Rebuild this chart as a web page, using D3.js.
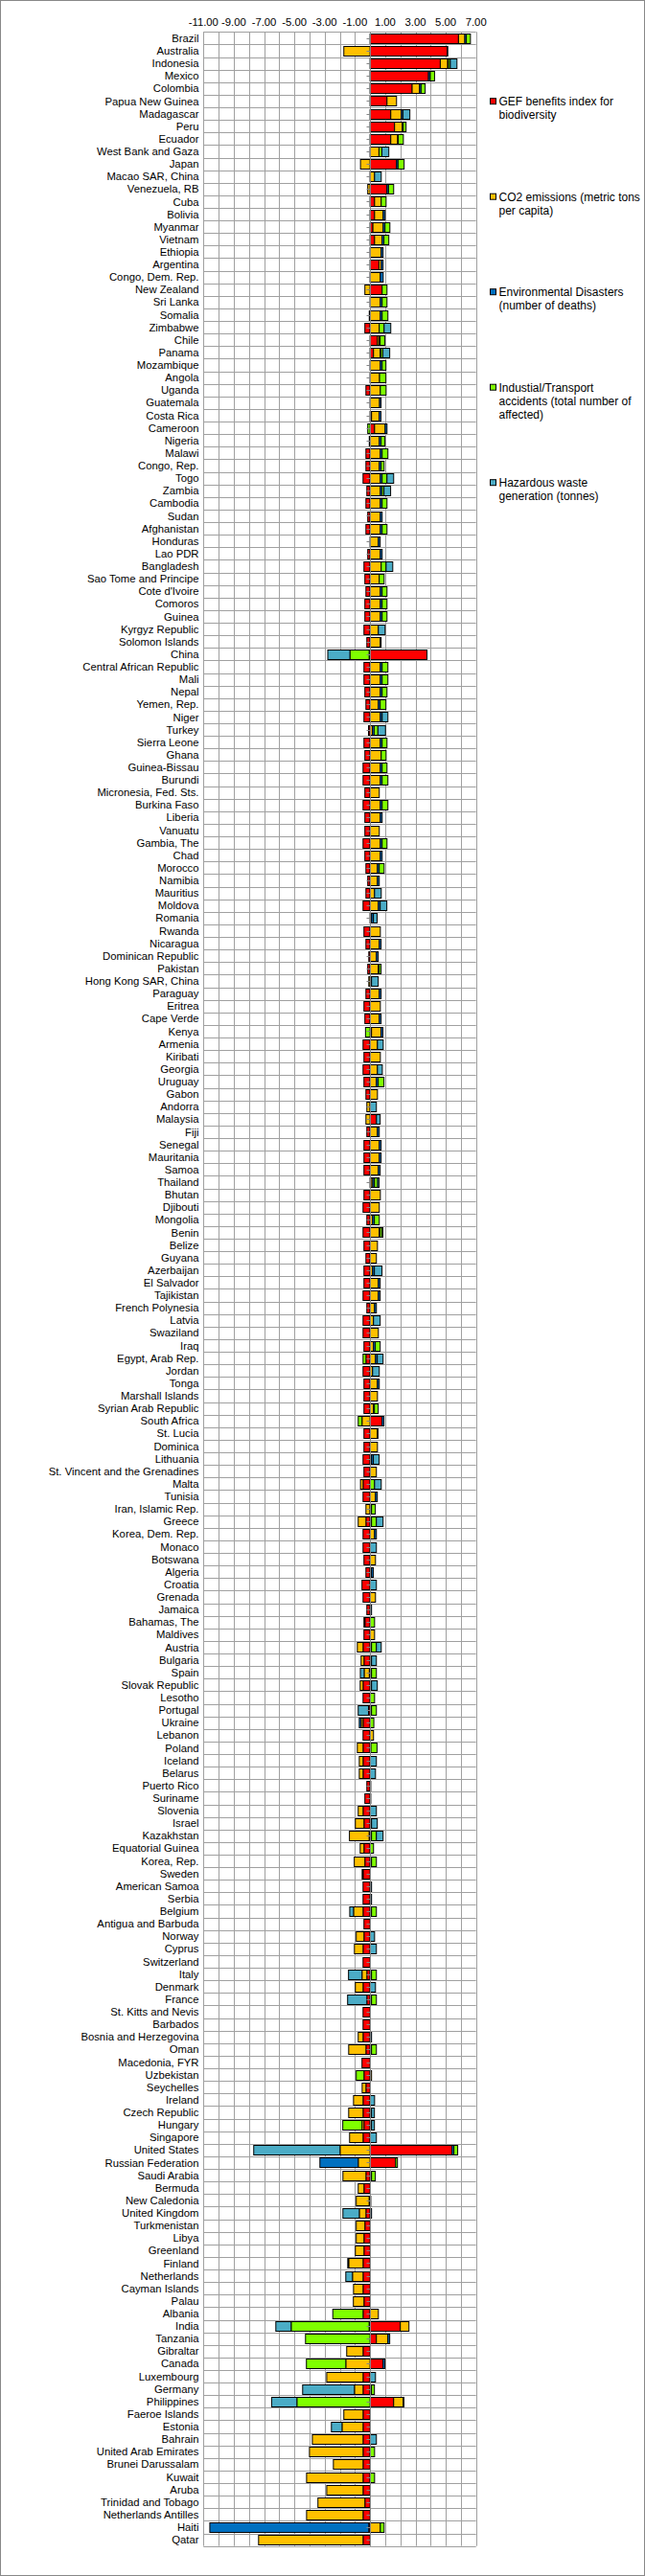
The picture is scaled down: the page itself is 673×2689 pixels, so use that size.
<!DOCTYPE html>
<html><head><meta charset="utf-8">
<script src="https://cdn.jsdelivr.net/npm/d3@7"></script>
<style>body{margin:0;background:#fff} svg{display:block} text{font-family:Arial,"Liberation Sans",sans-serif;fill:#000}</style>
</head><body><svg id="c" width="673" height="2689"></svg>
<script>
const countries = ["Brazil","Australia","Indonesia","Mexico","Colombia","Papua New Guinea","Madagascar","Peru","Ecuador","West Bank and Gaza",
"Japan","Macao SAR, China","Venezuela, RB","Cuba","Bolivia","Myanmar","Vietnam","Ethiopia","Argentina","Congo, Dem. Rep.",
"New Zealand","Sri Lanka","Somalia","Zimbabwe","Chile","Panama","Mozambique","Angola","Uganda","Guatemala",
"Costa Rica","Cameroon","Nigeria","Malawi","Congo, Rep.","Togo","Zambia","Cambodia","Sudan","Afghanistan",
"Honduras","Lao PDR","Bangladesh","Sao Tome and Principe","Cote d'Ivoire","Comoros","Guinea","Kyrgyz Republic","Solomon Islands","China",
"Central African Republic","Mali","Nepal","Yemen, Rep.","Niger","Turkey","Sierra Leone","Ghana","Guinea-Bissau","Burundi",
"Micronesia, Fed. Sts.","Burkina Faso","Liberia","Vanuatu","Gambia, The","Chad","Morocco","Namibia","Mauritius","Moldova",
"Romania","Rwanda","Nicaragua","Dominican Republic","Pakistan","Hong Kong SAR, China","Paraguay","Eritrea","Cape Verde","Kenya",
"Armenia","Kiribati","Georgia","Uruguay","Gabon","Andorra","Malaysia","Fiji","Senegal","Mauritania",
"Samoa","Thailand","Bhutan","Djibouti","Mongolia","Benin","Belize","Guyana","Azerbaijan","El Salvador",
"Tajikistan","French Polynesia","Latvia","Swaziland","Iraq","Egypt, Arab Rep.","Jordan","Tonga","Marshall Islands","Syrian Arab Republic",
"South Africa","St. Lucia","Dominica","Lithuania","St. Vincent and the Grenadines","Malta","Tunisia","Iran, Islamic Rep.","Greece","Korea, Dem. Rep.",
"Monaco","Botswana","Algeria","Croatia","Grenada","Jamaica","Bahamas, The","Maldives","Austria","Bulgaria",
"Spain","Slovak Republic","Lesotho","Portugal","Ukraine","Lebanon","Poland","Iceland","Belarus","Puerto Rico",
"Suriname","Slovenia","Israel","Kazakhstan","Equatorial Guinea","Korea, Rep.","Sweden","American Samoa","Serbia","Belgium",
"Antigua and Barbuda","Norway","Cyprus","Switzerland","Italy","Denmark","France","St. Kitts and Nevis","Barbados","Bosnia and Herzegovina",
"Oman","Macedonia, FYR","Uzbekistan","Seychelles","Ireland","Czech Republic","Hungary","Singapore","United States","Russian Federation",
"Saudi Arabia","Bermuda","New Caledonia","United Kingdom","Turkmenistan","Libya","Greenland","Finland","Netherlands","Cayman Islands",
"Palau","Albania","India","Tanzania","Gibraltar","Canada","Luxembourg","Germany","Philippines","Faeroe Islands",
"Estonia","Bahrain","United Arab Emirates","Brunei Darussalam","Kuwait","Aruba","Trinidad and Tobago","Netherlands Antilles","Haiti","Qatar"];

const gef = [5.84,5.1,4.64,3.86,2.78,1.12,1.37,1.62,1.37,0,
1.75,0,1.12,0.3,0.3,0.19,0.3,0,0.59,0,
0.8,0,-0.05,-0.34,0.49,0.23,0,0,-0.27,0,
0.1,0.3,-0.05,-0.27,-0.27,-0.46,-0.21,-0.27,-0.15,-0.27,
0,-0.15,-0.4,-0.34,-0.27,-0.34,-0.34,-0.4,-0.21,3.76,
-0.4,-0.4,-0.34,-0.27,-0.4,-0.1,-0.4,-0.34,-0.46,-0.46,
-0.34,-0.46,-0.34,-0.34,-0.46,-0.34,-0.27,-0.15,-0.27,-0.46,
0,-0.4,-0.27,-0.08,-0.15,0,-0.27,-0.4,-0.34,0.1,
-0.46,-0.4,-0.46,-0.4,-0.27,0,0.42,-0.21,-0.4,-0.4,
-0.4,0.06,-0.4,-0.46,-0.21,-0.46,-0.4,-0.27,-0.4,-0.4,
-0.46,-0.21,-0.46,-0.46,-0.4,-0.27,-0.46,-0.4,-0.4,-0.4,
0.8,-0.4,-0.4,-0.46,-0.4,-0.46,-0.46,0,-0.27,-0.46,
-0.46,-0.4,-0.27,-0.53,-0.46,-0.21,-0.34,-0.4,-0.46,-0.4,
-0.05,-0.46,-0.46,-0.1,-0.46,-0.46,-0.46,-0.46,-0.46,-0.21,
-0.34,-0.46,-0.4,-0.06,-0.4,-0.34,-0.46,-0.46,-0.46,-0.46,
-0.4,-0.4,-0.46,-0.46,-0.21,-0.46,-0.21,-0.46,-0.46,-0.46,
-0.27,-0.53,-0.4,-0.27,-0.46,-0.46,-0.4,-0.46,5.42,1.69,
-0.27,-0.4,-0.06,-0.27,-0.34,-0.4,-0.4,-0.46,-0.46,-0.46,
-0.4,-0.46,2.0,0.42,-0.46,0.86,-0.46,-0.46,1.56,-0.46,
-0.46,-0.46,-0.46,-0.46,-0.46,-0.46,-0.34,-0.46,-0.08,-0.46];

const co2 = [0.42,-1.73,0.49,0,0.49,0.63,0.7,0.51,0.46,0.59,
-0.63,0.3,-0.15,0.44,0.57,0.68,0.5,0.74,0.15,0.68,
-0.34,0.68,0.68,0.61,0.1,0.44,0.68,0.63,0.68,0.63,
0.5,0.7,0.61,0.68,0.61,0.68,0.68,0.68,0.68,0.68,
0.55,0.68,0.74,0.61,0.68,0.68,0.68,0.55,0.68,-0.06,
0.68,0.68,0.68,0.55,0.68,0.15,0.68,0.74,0.68,0.68,
0.61,0.68,0.68,0.61,0.68,0.68,0.49,0.49,0.3,0.55,
0.1,0.68,0.61,0.42,0.55,-0.08,0.61,0.68,0.61,0.63,
0.49,0.68,0.49,0.42,0.49,-0.21,-0.27,0.49,0.61,0.61,
0.55,0.12,0.68,0.61,0.17,0.61,0.49,0.42,0.17,0.55,
0.55,0.3,0.23,0.55,0.23,0.36,0.17,0.49,0.49,0.23,
-0.53,0.49,0.49,0.1,0.42,-0.17,0.36,-0.27,-0.51,0.3,
0,0.36,0.1,0,0.36,0,-0.06,0.3,-0.38,-0.19,
-0.34,-0.19,0,0,-0.13,0.23,-0.38,-0.25,-0.25,0,
0,-0.32,-0.57,-1.3,-0.25,-0.7,-0.06,0,0,-0.63,
0,-0.51,-0.57,0,-0.32,-0.51,0,0,0,-0.32,
-1.14,0,0.1,-0.25,-0.63,-0.95,-0.13,-0.89,-1.98,-0.78,
-1.52,-0.38,-0.85,-0.44,-0.57,-0.51,-0.57,-0.95,-0.7,-0.63,
-0.7,0.55,0.57,0.76,-1.08,-1.6,-2.4,-0.57,0.63,-1.27,
-1.39,-3.35,-3.54,-1.96,-3.73,-2.4,-3.1,-3.73,0.68,-6.9];

const envDisasters = [0.1,0.03,0.05,0.12,0.1,0,0.1,0.06,0.03,0,
0.1,0,0.1,0,0.12,0.12,0.12,0.12,0.12,0.19,
0,0.12,0.12,0,0.08,0.05,0.12,0,0,0.1,
0.12,0.12,0.12,0.12,0.12,0.12,0.12,0.12,0.12,0.12,
0.12,0.12,0,0,0.12,0.12,0.12,0,0.05,0,
0.12,0.12,0.12,0.12,0.12,0.12,0.12,0,0.12,0.12,
0,0.12,0.12,0,0.12,0.12,0.12,0.12,0,0.12,
0.12,0,0.12,0.12,0.06,0.1,0.12,0,0.12,0.12,
0,0,0,0.12,0,0,0,0.12,0.12,0.12,
0.12,0.12,0,0,0.12,0.06,0,0,0.12,0.12,
0.12,0.12,0,0,0.12,0.12,0,0.12,0,0.06,
0.12,0.03,0,0.12,0,0,0.12,0.1,0.1,0.12,
0,0,0.12,0,0,0.1,0,0,0.1,0.1,
0.1,0.1,0,0.1,-0.12,0,0.06,0,0,0.05,
0.05,0,0.1,0.1,0,0.1,0,0.1,0.1,0.1,
0,0,0,0,0.1,0,0.1,0,0,0.1,
0.1,0,0,0,0,0.1,0.1,0,0.12,-2.53,
0.1,0,0.05,0.1,0,0,0,-0.06,0,0,
0,0,-0.06,0.12,0,0.12,0,0.1,0.05,0,
0,0,0,0,0,0,0,0,-10.5,0];

const industrialAccidents = [0.27,0,0.12,0.28,0.27,0,0,0.19,0.34,0.19,
0.4,0,0.34,0.32,0,0.32,0.32,0,0,0,
0.32,0.32,0.38,0.32,0.3,0.12,0.25,0.42,0.38,0,
0,-0.15,0.25,0.38,0.2,0.32,0.12,0.32,0,0.32,
0,0,0.32,0.32,0.32,0.32,0.32,0,0,-1.27,
0.38,0.38,0.32,0.38,0,0.25,0.32,0.32,0.32,0.38,
0,0.38,0,0,0.32,0,0.32,0,0,0,
0,0,0,0,0.12,0,0,0,0,-0.3,
0,0,0,0.38,0,0,0,0,0,0,
0,0.2,0,0,0.32,0.12,0,0,0,0,
0,0,0,0,0.32,-0.19,0,0,0,0.25,
-0.25,0,0,0,0,0.3,0,0.25,0.32,0,
0,0,0,0,0,0,0.3,0,0.32,0,
0.32,0,0.3,0.32,0.25,0,0.4,0,0,0,
0,0,0,0.32,0.23,0.32,0,0,0,0.32,
0,0,0,0,0.32,0,0.32,0,0,0,
0.32,0,-0.51,0,0,0,-1.27,0,0.25,0.12,
0.25,0,0,0,0,0,0,0,0,0,
0,-2.0,-5.15,-4.26,0,-2.6,0,0.19,-4.83,0,
0,0,0.3,0,0.3,0,0,0,0.25,0];

const hazardousWaste = [0,0,0.44,0,0,0,0.46,0,0,0.46,
0,0.44,0,0,0,0,0,0,0,0,
0,0,0,0.44,0,0.46,0,0,0,0,
0,0,0,0,0,0.44,0.44,0,0,0,
0,0,0.44,0,0,0,0,0.44,0,-1.46,
0,0,0,0,0.38,0.5,0,0,0,0,
0,0,0,0,0,0,0,0,0.44,0.44,
0.25,0,0,0,0,0.44,0,0,0,0,
0.38,0,0.32,0,0,0.42,0.25,0,0,0,
0,0.1,0,0,0,0.06,0,0,0.5,0,
0,0,0.44,0,0,0.38,0.44,0,0,0,
0,0,0,0.38,0,0.44,0,0,0.44,0,
0.42,0,0,0.42,0,0,0,0,0.32,0.32,
-0.25,0.38,0,-0.68,0,0,0,0.42,0.36,0,
0,0.42,0.38,0.44,0,0,0,0,0,-0.25,
0,0.3,0.42,0,-0.89,0.36,-1.27,0,0,0,
0,0,0,0,0.3,0.19,0.19,0.42,-5.7,0,
0,0,0,-1.08,0,0,0,0,-0.44,0,
0,0,-1.01,0,0,0,0.36,-3.42,-1.67,0,
-0.7,0.42,0,0,0,0,0,0,0,0];

const seriesNames = ["GEF benefits index for biodiversity","CO2 emissions (metric tons per capita)","Environmental Disasters (number of deaths)","Industial/Transport accidents (total number of affected)","Hazardous waste generation (tonnes)"];
const legendLines = [["GEF benefits index for","biodiversity"],["CO2 emissions (metric tons","per capita)"],["Environmental Disasters","(number of deaths)"],["Industial/Transport","accidents (total number of","affected)"],["Hazardous waste","generation (tonnes)"]];
const seriesColors = ["#FF0000","#FFC000","#0070C0","#7FFF00","#4BACC6"];
const xTicks = [-11,-9,-7,-5,-3,-1,1,3,5,7];

const seriesArrays = [gef, co2, envDisasters, industrialAccidents, hazardousWaste];
const keys = d3.range(5);
const table = countries.map((c,i)=>{const o={country:c}; keys.forEach(k=>o[k]=seriesArrays[k][i]); return o;});

const svg = d3.select("#c");
const W=673,H=2689;
svg.append("rect").attr("x",0.5).attr("y",0.5).attr("width",W-1).attr("height",H-1).attr("fill","#fff").attr("stroke","#888");

const x = d3.scaleLinear().domain([-11,7]).range([212.3,496.7]);
const y = d3.scaleBand().domain(countries).range([33.3,2657.7]).paddingInner(0.24).paddingOuter(0.12);
const step = y.step();
const r0 = y.range()[0];

// gridlines
const g = svg.append("g");
g.selectAll("line.v").data(d3.range(-11,8)).join("line")
 .attr("x1",d=>Math.round(x(d))+0.5).attr("x2",d=>Math.round(x(d))+0.5)
 .attr("y1",r0).attr("y2",y.range()[1]).attr("stroke","#a0a0a0");
g.selectAll("line.h").data(d3.range(countries.length+1)).join("line")
 .attr("x1",x(-11)).attr("x2",x(7))
 .attr("y1",d=>Math.round(r0+d*step)+0.5).attr("y2",d=>Math.round(r0+d*step)+0.5).attr("stroke","#a0a0a0");

// bars
const stacked = d3.stack().keys(keys).offset(d3.stackOffsetDiverging)(table);
svg.append("g").selectAll("g").data(stacked).join("g")
 .attr("fill",(d,i)=>seriesColors[i])
 .selectAll("rect").data(d=>d.filter(p=>p[1]-p[0]!==0)).join("rect")
 .attr("x",p=>x(p[0])).attr("width",p=>x(p[1])-x(p[0]))
 .attr("y",p=>Math.round(y(p.data.country))+0.5).attr("height",Math.round(y.bandwidth()))
 .attr("stroke","#000").attr("stroke-width",1);

// zero axis line + ticks
const x0 = Math.round(x(0))+0.5;
svg.append("line").attr("x1",x0).attr("x2",x0).attr("y1",r0).attr("y2",y.range()[1]).attr("stroke","#868686");
svg.append("g").selectAll("line").data(countries).join("line")
 .attr("x1",x0-4).attr("x2",x0).attr("y1",d=>Math.round(y(d)+y.bandwidth()/2)+0.5).attr("y2",d=>Math.round(y(d)+y.bandwidth()/2)+0.5)
 .attr("stroke","#868686");

// category labels
svg.append("g").selectAll("text").data(countries).join("text")
 .attr("x",207.5).attr("y",d=>y(d)+y.bandwidth()/2).attr("dy","0.36em")
 .attr("text-anchor","end").attr("font-size","11.3px").text(d=>d);

// x tick labels
svg.append("g").selectAll("text").data(xTicks).join("text")
 .attr("x",d=>x(d)).attr("y",26.5).attr("text-anchor","middle").attr("font-size","11.3px")
 .text(d=>d.toFixed(2));

// legend
const lg = svg.append("g");
legendLines.forEach((lines,i)=>{
  const cy = 105.7 + i*99.5;
  lg.append("rect").attr("x",511.5).attr("y",cy-3).attr("width",6).attr("height",6)
    .attr("fill",seriesColors[i]).attr("stroke","#000");
  const t = lg.append("text").attr("x",520.5).attr("y",cy).attr("font-size","12px");
  lines.forEach((ln,j)=>t.append("tspan").attr("x",520.5).attr("y",cy+j*14.3).attr("dy","0.36em").text(ln));
});
</script></body></html>
